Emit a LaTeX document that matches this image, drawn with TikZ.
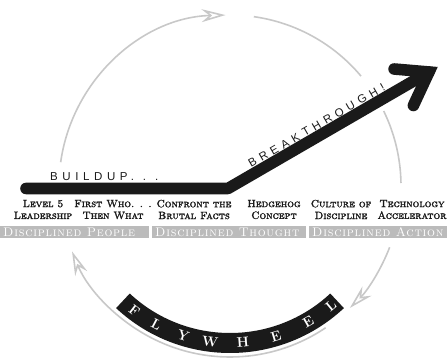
\documentclass[tikz,border=0pt]{standalone}
\usepackage{fontspec}
\setsansfont{Liberation Sans}
\newfontfamily\spaced[LetterSpace=40]{Liberation Sans}
\newfontfamily\capsf[FakeBold=2.2]{lmromancaps10-regular.otf}
\newfontfamily\capsl[LetterSpace=6]{lmromancaps10-regular.otf}
\usetikzlibrary{arrows.meta}
\definecolor{ink}{HTML}{1A1A1A}
\definecolor{ring}{HTML}{C8C8C8}
\definecolor{bandgray}{HTML}{BBBBBB}
\begin{document}
\begin{tikzpicture}[x=1pt,y=-1pt,
  ring/.style={draw=ring, line width=1.6pt},
  tip/.style={-{Stealth[open,length=24pt,width=13pt,inset=8pt]}},
  lab/.style={font=\capsf\fontsize{10.5}{11.8}\selectfont, align=center, inner sep=0pt, text=ink},
  bandtxt/.style={font=\capsl\fontsize{12.5}{12.5}\selectfont, text=white, anchor=west, inner sep=0pt},
  bandbox/.style={fill=bandgray},
  fly/.style={font=\bfseries\fontsize{14}{14}\selectfont, text=white, inner sep=0pt},
  spacedtxt/.style={font=\spaced\fontsize{11.5}{11.5}\selectfont, text=ink, inner sep=0pt, anchor=base west},
  bar/.style={draw=ink, line width=11.6pt, line cap=round}
]
\useasboundingbox (0,0) rectangle (447,358);
\coordinate (C) at (230,186);
% gray cycle arcs
\draw[ring,tip] (C) ++(-172:171) arc[start angle=-172, end angle=-91.5, radius=171];
\draw[ring] (C) ++(-82:171) arc[start angle=-82, end angle=-40, radius=171];
\draw[ring] (C) ++(-26:171) arc[start angle=-26, end angle=-1, radius=171];
\draw[ring,tip] (C) ++(21:171) arc[start angle=21, end angle=45.5, radius=171];
\draw[ring,tip] (C) ++(56:171) arc[start angle=56, end angle=157.5, radius=171];
% flywheel band
\fill[ink] ([shift={(230,186)}]47:167) arc[start angle=47, end angle=133, radius=167]
  -- ([shift={(230,186)}]133:147) arc[start angle=133, end angle=47, radius=147] -- cycle;
\foreach \l/\t [count=\i] in {F/127.5, L/118, Y/107.3, W/97.3, H/85.3, E/73, E/60.1, L/50}
  \node[fly, rotate=90-\t] (fly\i) at ([shift={(230,186)}]\t:157) {\l};
% black arrow
\coordinate (b0) at (26,188.5);
\coordinate (bend) at (228,188.5);
\coordinate (hd) at (429,72);
\coordinate (ua) at (394.1,69);
\coordinate (la) at (413.4,105.5);
\draw[bar, line join=round] (b0) -- (bend) -- (hd);
\draw[bar, line join=miter] (ua) -- (hd) -- (la);
\node[spacedtxt] (bu) at (50,180.5) {BUILDUP.\hspace{9pt}.\hspace{9pt}.};
\node[spacedtxt, rotate=30] (bt) at (251,168) {BREAKTHROUGH!};
% labels
\node[lab] (c1) at (43,209.5) {Level 5\\Leadership};
\node[lab] (c2) at (113,209.5) {First Who. . .\\Then What};
\node[lab] (c3) at (194,209.5) {Confront the\\Brutal Facts};
\node[lab] (c4) at (274,209.5) {Hedgehog\\Concept};
\node[lab] (c5) at (341,209.5) {Culture of\\Discipline};
\node[lab] (c6) at (412,209.5) {Technology\\Accelerator};
% bands
\fill[bandbox] (0,226) rectangle (149,238);
\fill[bandbox] (152,226) rectangle (306,238);
\fill[bandbox] (309,226) rectangle (447,238);
\node[bandtxt] (dp) at (3,232) {Disciplined People};
\node[bandtxt] (dt) at (155,232) {Disciplined Thought};
\node[bandtxt] (da) at (312,232) {Disciplined Action};
\end{tikzpicture}
\end{document}
